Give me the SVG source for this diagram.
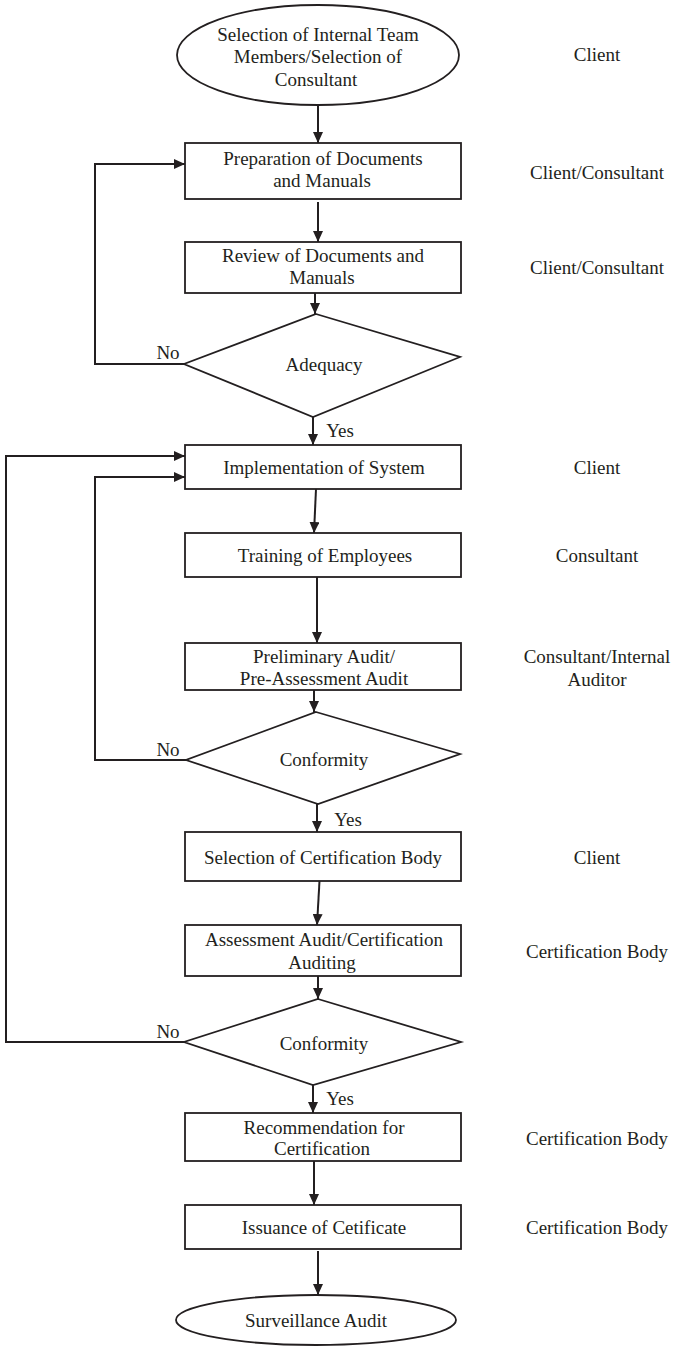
<svg xmlns="http://www.w3.org/2000/svg" width="676" height="1347" viewBox="0 0 676 1347">
<style>
  .shape { fill: #ffffff; stroke: #231f20; stroke-width: 1.8; }
  .conn { fill: none; stroke: #231f20; stroke-width: 2; }
  .t { font-family: "Liberation Serif", "Times New Roman", serif; font-size: 19px; fill: #231f20; text-anchor: middle; dominant-baseline: central; }
  .lbl { font-family: "Liberation Serif", "Times New Roman", serif; font-size: 19px; fill: #231f20; text-anchor: middle; dominant-baseline: central; }
</style>
<defs>
  <marker id="arr" markerUnits="userSpaceOnUse" markerWidth="11" markerHeight="10" refX="11" refY="5" orient="auto">
    <path d="M0,0 L11,5 L0,10 z" fill="#231f20"/>
  </marker>
</defs>
<rect width="676" height="1347" fill="#ffffff"/>

<g id="connectors">
  <line class="conn" x1="318" y1="105" x2="318" y2="143" marker-end="url(#arr)"/>
  <line class="conn" x1="318" y1="202" x2="318" y2="242" marker-end="url(#arr)"/>
  <line class="conn" x1="315" y1="293" x2="315" y2="314" marker-end="url(#arr)"/>
  <polyline class="conn" points="184,364 95,364 95,164 185,164" marker-end="url(#arr)"/>
  <line class="conn" x1="313" y1="417" x2="313" y2="445" marker-end="url(#arr)"/>
  <polyline class="conn" points="186,760 95,760 95,477 185,477" marker-end="url(#arr)"/>
  <polyline class="conn" points="184,1042 6,1042 6,456 185,456" marker-end="url(#arr)"/>
  <line class="conn" x1="316" y1="489" x2="314" y2="533" marker-end="url(#arr)"/>
  <line class="conn" x1="317" y1="577" x2="317" y2="643" marker-end="url(#arr)"/>
  <line class="conn" x1="314" y1="690" x2="314" y2="712" marker-end="url(#arr)"/>
  <line class="conn" x1="317" y1="804" x2="317" y2="832" marker-end="url(#arr)"/>
  <line class="conn" x1="319.5" y1="881" x2="317" y2="925" marker-end="url(#arr)"/>
  <line class="conn" x1="318" y1="976" x2="318" y2="999" marker-end="url(#arr)"/>
  <line class="conn" x1="313" y1="1085" x2="313" y2="1113" marker-end="url(#arr)"/>
  <line class="conn" x1="314" y1="1161" x2="314" y2="1205" marker-end="url(#arr)"/>
  <line class="conn" x1="318" y1="1251" x2="318" y2="1295" marker-end="url(#arr)"/>
  <text class="lbl" x="168" y="352">No</text>
  <text class="lbl" x="340" y="430">Yes</text>
  <text class="lbl" x="168" y="749">No</text>
  <text class="lbl" x="348" y="819">Yes</text>
  <text class="lbl" x="168" y="1031">No</text>
  <text class="lbl" x="340" y="1098">Yes</text>
</g>

<g id="start">
  <ellipse class="shape" cx="318" cy="55" rx="141" ry="50"/>
  <text class="t" x="318" y="34">Selection of Internal Team</text>
  <text class="t" x="318" y="56">Members/Selection of</text>
  <text class="t" x="316" y="79">Consultant</text>
</g>
<g id="prep">
  <rect class="shape" x="185" y="143" width="276" height="56"/>
  <text class="t" x="323" y="158">Preparation of Documents</text>
  <text class="t" x="322" y="180">and Manuals</text>
</g>
<g id="review">
  <rect class="shape" x="185" y="242" width="276" height="51"/>
  <text class="t" x="323" y="255">Review of Documents and</text>
  <text class="t" x="322" y="277">Manuals</text>
</g>
<g id="adequacy">
  <polygon class="shape" points="316,314 460,357 313,417 184,364"/>
  <text class="t" x="324" y="364">Adequacy</text>
</g>
<g id="implementation">
  <rect class="shape" x="185" y="445" width="276" height="44"/>
  <text class="t" x="324" y="467">Implementation of System</text>
</g>
<g id="training">
  <rect class="shape" x="185" y="533" width="276" height="44"/>
  <text class="t" x="325" y="555">Training of Employees</text>
</g>
<g id="preliminary">
  <rect class="shape" x="185" y="643" width="276" height="47"/>
  <text class="t" x="324" y="656">Preliminary Audit/</text>
  <text class="t" x="324" y="678">Pre-Assessment Audit</text>
</g>
<g id="conformity1">
  <polygon class="shape" points="316,712 460,754 318,804 186,760"/>
  <text class="t" x="324" y="759">Conformity</text>
</g>
<g id="selection-cb">
  <rect class="shape" x="185" y="832" width="276" height="49"/>
  <text class="t" x="323" y="857">Selection of Certification Body</text>
</g>
<g id="assessment">
  <rect class="shape" x="185" y="925" width="276" height="51"/>
  <text class="t" x="324" y="939">Assessment Audit/Certification</text>
  <text class="t" x="322" y="962">Auditing</text>
</g>
<g id="conformity2">
  <polygon class="shape" points="318,999 461,1042 313,1085 184,1042"/>
  <text class="t" x="324" y="1043">Conformity</text>
</g>
<g id="recommendation">
  <rect class="shape" x="185" y="1113" width="276" height="48"/>
  <text class="t" x="324" y="1127">Recommendation for</text>
  <text class="t" x="322" y="1148">Certification</text>
</g>
<g id="issuance">
  <rect class="shape" x="185" y="1205" width="276" height="44"/>
  <text class="t" x="324" y="1227">Issuance of Cetificate</text>
</g>
<g id="surveillance">
  <ellipse class="shape" cx="316" cy="1320" rx="140" ry="25"/>
  <text class="t" x="316" y="1320">Surveillance Audit</text>
</g>

<g id="roles">
  <text class="lbl" x="597" y="54">Client</text>
  <text class="lbl" x="597" y="172">Client/Consultant</text>
  <text class="lbl" x="597" y="267">Client/Consultant</text>
  <text class="lbl" x="597" y="467">Client</text>
  <text class="lbl" x="597" y="555">Consultant</text>
  <text class="lbl" x="597" y="656">Consultant/Internal</text>
  <text class="lbl" x="597" y="679">Auditor</text>
  <text class="lbl" x="597" y="857">Client</text>
  <text class="lbl" x="597" y="951">Certification Body</text>
  <text class="lbl" x="597" y="1138">Certification Body</text>
  <text class="lbl" x="597" y="1227">Certification Body</text>
</g>
</svg>
